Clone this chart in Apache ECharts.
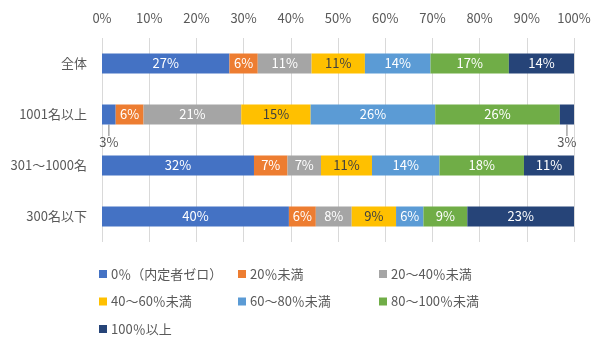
<!DOCTYPE html>
<html>
<head>
<meta charset="utf-8">
<script src="https://cdn.jsdelivr.net/npm/echarts@6/dist/echarts.min.js"></script>
<style>html,body{margin:0;padding:0;background:#fff}#c{width:600px;height:350px}</style>
</head>
<body>
<div id="c"></div>
<script>
const categories = ['全体', '1001名以上', '301～1000名', '300名以下'];
const seriesNames = ['0％（内定者ゼロ）', '20％未満', '20～40％未満', '40～60％未満', '60～80％未満', '80～100％未満', '100％以上'];
const zero      = [27.0, 2.9, 32.2, 39.6];
const under20   = [6.0, 5.9, 7.1, 5.7];
const r20to40   = [11.4, 20.7, 7.1, 7.6];
const r40to60   = [11.3, 14.7, 10.8, 9.4];
const r60to80   = [13.9, 26.4, 14.3, 5.8];
const r80to100  = [16.6, 26.4, 17.9, 9.3];
const over100   = [13.8, 3.0, 10.6, 22.6];
const tickLabels = ['0%','10%','20%','30%','40%','50%','60%','70%','80%','90%','100%'];

const colors = ['#4472C4', '#ED7D31', '#A5A5A5', '#FFC000', '#5B9BD5', '#70AD47', '#264478'];
const labelColors = ['#fff', '#fff', '#fff', '#404040', '#fff', '#fff', '#fff'];
const allData = [zero, under20, r20to40, r40to60, r60to80, r80to100, over100];
const outsideIdx = { 0: [1], 6: [1] }; // tiny segments labelled below the bar

const font = '"Noto Sans CJK JP", "Noto Sans", sans-serif';

const series = allData.map((arr, si) => {
  const s = {
    name: seriesNames[si],
    type: 'bar',
    stack: 'total',
    barWidth: 20,
    itemStyle: { color: colors[si] },
    label: {
      show: true,
      position: 'inside',
      color: labelColors[si],
      fontSize: 13,
      fontFamily: font,
      formatter: p => Math.round(p.value) + '%'
    },
    data: arr.map((v, di) => {
      if (outsideIdx[si] && outsideIdx[si].indexOf(di) >= 0) {
        return { value: v, label: { color: '#595959' } };
      }
      return { value: v, labelLine: { show: false } };
    })
  };
  if (outsideIdx[si]) {
    s.labelLine = { show: true, lineStyle: { color: '#a6a6a6', width: 1.5 } };
    s.labelLayout = function (p) {
      return outsideIdx[si].indexOf(p.dataIndex) >= 0 ? { dy: 28 } : {};
    };
  }
  return s;
});

const legendCols = [[0, 3, 6], [1, 4], [2, 5]];
const legendLeft = [94, 233, 374];
const legends = legendCols.map((col, ci) => ({
  orient: 'vertical',
  left: legendLeft[ci],
  top: 262,
  itemWidth: 8,
  itemHeight: 8,
  itemGap: 13.5,
  icon: 'rect',
  textStyle: { color: '#595959', fontSize: 13, lineHeight: 14, fontFamily: font, padding: [0, 0, 0, -1] },
  data: col.map(i => seriesNames[i])
}));

const chart = echarts.init(document.getElementById('c'), null, { renderer: 'canvas' });
chart.setOption({
  animation: false,
  textStyle: { fontFamily: font },
  grid: { left: 102, right: 26, top: 38, bottom: 108, containLabel: false },
  xAxis: {
    type: 'value',
    position: 'top',
    min: 0,
    max: 100,
    interval: 10,
    axisLine: { show: false },
    axisTick: { show: false },
    axisLabel: {
      color: '#595959', fontSize: 13, fontFamily: font, margin: 13,
      formatter: v => tickLabels[Math.round(v / 10)]
    },
    splitLine: { show: true, lineStyle: { color: '#d9d9d9', width: 1 } }
  },
  yAxis: {
    type: 'category',
    inverse: true,
    data: categories,
    axisLine: { show: false },
    axisTick: { show: false },
    axisLabel: { color: '#595959', fontSize: 13, fontFamily: font, margin: 15 }
  },
  legend: legends,
  series: series
});
</script>
</body>
</html>
